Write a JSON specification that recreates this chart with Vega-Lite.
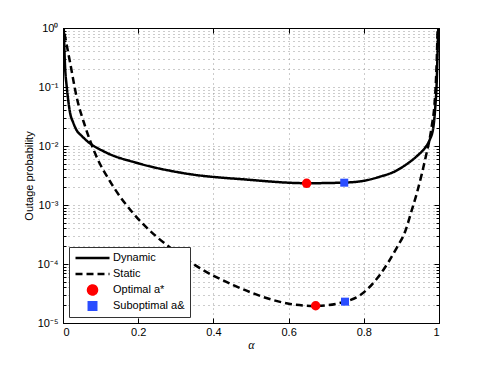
{
  "$schema": "https://vega.github.io/schema/vega-lite/v6.json",
  "width": 376,
  "height": 295,
  "autosize": {"type": "none"},
  "padding": {"left": 63, "top": 28, "right": 46, "bottom": 42},
  "background": "white",
  "config": {
    "view": {"stroke": "black", "strokeWidth": 1},
    "axis": {"labelFont": "Liberation Sans", "titleFont": "Liberation Sans", "labelColor": "black", "titleColor": "black", "domainColor": "black", "tickColor": "black", "titleFontWeight": "normal", "labelFontSize": 11, "titleFontSize": 11}
  },
  "datasets": {
    "curves": [
      {"series": "Dynamic", "alpha": 0.002, "p": 1.0},
      {"series": "Dynamic", "alpha": 0.005, "p": 0.257},
      {"series": "Dynamic", "alpha": 0.01, "p": 0.1},
      {"series": "Dynamic", "alpha": 0.014, "p": 0.059},
      {"series": "Dynamic", "alpha": 0.019, "p": 0.036},
      {"series": "Dynamic", "alpha": 0.027, "p": 0.0251},
      {"series": "Dynamic", "alpha": 0.036, "p": 0.0186},
      {"series": "Dynamic", "alpha": 0.05, "p": 0.0148},
      {"series": "Dynamic", "alpha": 0.067, "p": 0.0117},
      {"series": "Dynamic", "alpha": 0.112, "p": 0.0079},
      {"series": "Dynamic", "alpha": 0.2, "p": 0.0051},
      {"series": "Dynamic", "alpha": 0.32, "p": 0.00347},
      {"series": "Dynamic", "alpha": 0.49, "p": 0.00269},
      {"series": "Dynamic", "alpha": 0.65, "p": 0.00234},
      {"series": "Dynamic", "alpha": 0.75, "p": 0.0024},
      {"series": "Dynamic", "alpha": 0.8, "p": 0.00257},
      {"series": "Dynamic", "alpha": 0.843, "p": 0.00302},
      {"series": "Dynamic", "alpha": 0.883, "p": 0.00372},
      {"series": "Dynamic", "alpha": 0.918, "p": 0.00513},
      {"series": "Dynamic", "alpha": 0.945, "p": 0.00708},
      {"series": "Dynamic", "alpha": 0.963, "p": 0.00933},
      {"series": "Dynamic", "alpha": 0.975, "p": 0.0126},
      {"series": "Dynamic", "alpha": 0.985, "p": 0.0209},
      {"series": "Dynamic", "alpha": 0.99, "p": 0.0447},
      {"series": "Dynamic", "alpha": 0.994, "p": 0.126},
      {"series": "Dynamic", "alpha": 0.996, "p": 0.355},
      {"series": "Dynamic", "alpha": 0.998, "p": 1.0},
      {"series": "Static", "alpha": 0.004, "p": 0.8},
      {"series": "Static", "alpha": 0.019, "p": 0.257},
      {"series": "Static", "alpha": 0.036, "p": 0.069},
      {"series": "Static", "alpha": 0.059, "p": 0.0214},
      {"series": "Static", "alpha": 0.085, "p": 0.0076},
      {"series": "Static", "alpha": 0.13, "p": 0.00224},
      {"series": "Static", "alpha": 0.187, "p": 0.00072},
      {"series": "Static", "alpha": 0.249, "p": 0.00029},
      {"series": "Static", "alpha": 0.293, "p": 0.000174},
      {"series": "Static", "alpha": 0.364, "p": 0.000085},
      {"series": "Static", "alpha": 0.453, "p": 0.000044},
      {"series": "Static", "alpha": 0.559, "p": 0.0000245},
      {"series": "Static", "alpha": 0.604, "p": 0.000021},
      {"series": "Static", "alpha": 0.672, "p": 0.0000195},
      {"series": "Static", "alpha": 0.75, "p": 0.000023},
      {"series": "Static", "alpha": 0.79, "p": 0.0000295},
      {"series": "Static", "alpha": 0.843, "p": 0.000066},
      {"series": "Static", "alpha": 0.888, "p": 0.00019},
      {"series": "Static", "alpha": 0.91, "p": 0.000355},
      {"series": "Static", "alpha": 0.927, "p": 0.000794},
      {"series": "Static", "alpha": 0.941, "p": 0.00158},
      {"series": "Static", "alpha": 0.954, "p": 0.00331},
      {"series": "Static", "alpha": 0.967, "p": 0.00759},
      {"series": "Static", "alpha": 0.973, "p": 0.0112},
      {"series": "Static", "alpha": 0.981, "p": 0.0224},
      {"series": "Static", "alpha": 0.988, "p": 0.0501},
      {"series": "Static", "alpha": 0.992, "p": 0.132},
      {"series": "Static", "alpha": 0.994, "p": 0.282},
      {"series": "Static", "alpha": 0.996, "p": 0.794},
      {"series": "Static", "alpha": 0.9965, "p": 1.0}
    ],
    "points": [
      {"series": "Optimal a*", "alpha": 0.648, "p": 0.00233},
      {"series": "Optimal a*", "alpha": 0.672, "p": 0.0000196},
      {"series": "Suboptimal a&", "alpha": 0.748, "p": 0.00239},
      {"series": "Suboptimal a&", "alpha": 0.75, "p": 0.000023}
    ]
  },
  "layer": [
    {
      "data": {"name": "curves"},
      "mark": {"type": "line", "strokeWidth": 2.5, "clip": true, "interpolate": "monotone"},
      "encoding": {
        "x": {
          "field": "alpha", "type": "quantitative",
          "scale": {"domain": [0, 1], "nice": false, "zero": false},
          "axis": {"orient": "bottom", "values": [0, 0.2, 0.4, 0.6, 0.8, 1], "format": "~g", "grid": true, "gridDash": [1, 4], "gridColor": "#999", "gridWidth": 1, "tickSize": -5, "labelPadding": 8, "title": "α", "titleFont": "Liberation Serif", "titleFontStyle": "italic", "titleFontSize": 12, "titlePadding": 2}
        },
        "y": {
          "field": "p", "type": "quantitative",
          "scale": {"type": "log", "domain": [0.00001, 1], "nice": false},
          "axis": {
            "orient": "left",
            "values": [0.00001, 0.00002, 0.00003, 0.00004, 0.00005, 0.00006, 0.00007, 0.00008, 0.00009, 0.0001, 0.0002, 0.0003, 0.0004, 0.0005, 0.0006, 0.0007, 0.0008, 0.0009, 0.001, 0.002, 0.003, 0.004, 0.005, 0.006, 0.007, 0.008, 0.009, 0.01, 0.02, 0.03, 0.04, 0.05, 0.06, 0.07, 0.08, 0.09, 0.1, 0.2, 0.3, 0.4, 0.5, 0.6, 0.7, 0.8, 0.9, 1],
            "labelExpr": "abs(log(datum.value)/LN10 - round(log(datum.value)/LN10)) > 0.01 ? '' : datum.value > 0.5 ? '10⁰' : datum.value > 0.05 ? '10⁻¹' : datum.value > 0.005 ? '10⁻²' : datum.value > 0.0005 ? '10⁻³' : datum.value > 0.00005 ? '10⁻⁴' : '10⁻⁵'",
            "labelOverlap": false,
            "grid": true, "gridDash": [1, 4], "gridColor": "#999", "gridWidth": 1,
            "tickSize": {"condition": {"test": "abs(log(datum.value)/LN10 - round(log(datum.value)/LN10)) < 0.01", "value": -5}, "value": -3},
            "labelPadding": 10,
            "title": "Outage probability", "titlePadding": 3
          }
        },
        "color": {
          "field": "series", "type": "nominal",
          "scale": {"domain": ["Dynamic", "Static", "Optimal a*", "Suboptimal a&"], "range": ["black", "black", "#ff0000", "#2a4dff"]},
          "legend": {
            "orient": "bottom-left", "offset": 6, "title": null,
            "strokeColor": "#333", "fillColor": "white", "padding": 5,
            "labelFont": "Liberation Sans", "labelFontSize": 11, "labelColor": "black",
            "symbolSize": 81, "labelOffset": 27, "rowPadding": 4, "clipHeight": 12,
            "encode": {"symbols": {"update": {
              "shape": {"signal": "datum.value === 'Dynamic' || datum.value === 'Static' ? 'M-1,0H6.56' : datum.value === 'Optimal a*' ? 'M3.78,0A1,1,0,1,1,1.78,0A1,1,0,1,1,3.78,0Z' : 'M1.95,-0.83H3.61V0.83H1.95Z'"},
              "fill": {"signal": "datum.value === 'Optimal a*' ? '#ff0000' : datum.value === 'Suboptimal a&' ? '#2a4dff' : 'transparent'"},
              "stroke": {"signal": "datum.value === 'Dynamic' || datum.value === 'Static' ? 'black' : 'transparent'"},
              "strokeDash": {"signal": "datum.value === 'Static' ? [7, 4] : [1, 0]"},
              "strokeWidth": {"value": 2.5},
              "opacity": {"value": 1},
              "fillOpacity": {"value": 1}
            }}}
          }
        },
        "strokeDash": {
          "field": "series", "type": "nominal",
          "scale": {"domain": ["Dynamic", "Static"], "range": [[1, 0], [7, 4]]},
          "legend": null
        }
      }
    },
    {
      "data": {"name": "points"},
      "mark": {"type": "point", "filled": true, "opacity": 1},
      "encoding": {
        "x": {
          "field": "alpha", "type": "quantitative",
          "axis": {"orient": "top", "values": [0, 0.2, 0.4, 0.6, 0.8, 1], "labels": false, "grid": false, "tickSize": -5, "title": null}
        },
        "y": {
          "field": "p", "type": "quantitative",
          "axis": {
            "orient": "right",
            "values": [0.00001, 0.00002, 0.00003, 0.00004, 0.00005, 0.00006, 0.00007, 0.00008, 0.00009, 0.0001, 0.0002, 0.0003, 0.0004, 0.0005, 0.0006, 0.0007, 0.0008, 0.0009, 0.001, 0.002, 0.003, 0.004, 0.005, 0.006, 0.007, 0.008, 0.009, 0.01, 0.02, 0.03, 0.04, 0.05, 0.06, 0.07, 0.08, 0.09, 0.1, 0.2, 0.3, 0.4, 0.5, 0.6, 0.7, 0.8, 0.9, 1],
            "labels": false, "grid": false,
            "tickSize": {"condition": {"test": "abs(log(datum.value)/LN10 - round(log(datum.value)/LN10)) < 0.01", "value": -5}, "value": -3},
            "title": null
          }
        },
        "color": {"field": "series", "type": "nominal"},
        "shape": {
          "field": "series", "type": "nominal",
          "scale": {"domain": ["Optimal a*", "Suboptimal a&"], "range": ["circle", "square"]},
          "legend": null
        },
        "size": {
          "field": "series", "type": "nominal",
          "scale": {"domain": ["Optimal a*", "Suboptimal a&"], "range": [90, 64]},
          "legend": null
        }
      }
    }
  ],
  "resolve": {"axis": {"x": "independent", "y": "independent"}}
}
